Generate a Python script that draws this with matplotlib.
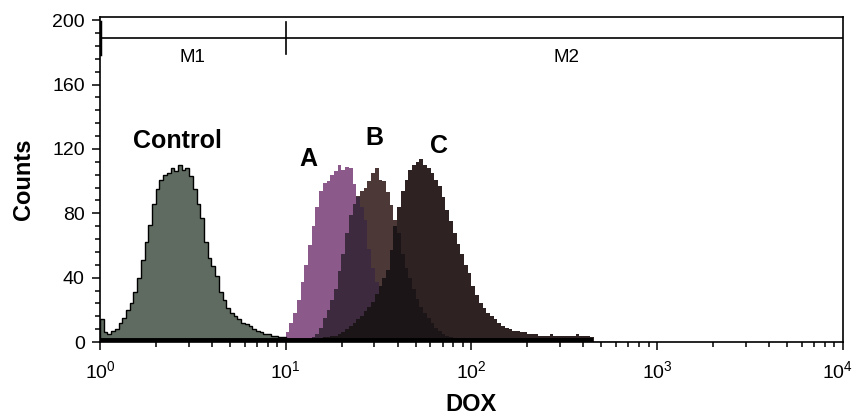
import numpy as np
import matplotlib
matplotlib.use("Agg")
import matplotlib.pyplot as plt
from matplotlib.ticker import LogLocator, MultipleLocator, NullFormatter
from matplotlib.transforms import ScaledTranslation

plt.rcParams['font.family'] = ['Liberation Sans', 'DejaVu Sans']

# ---- data (counts per log-channel bin, bin width 0.02 decade) ----
bin_width = 0.02  # decades
control_start = 0.00
control_counts = [14, 6, 5, 7, 8, 12, 15, 20, 24, 31, 40, 51, 62, 73, 86, 95, 101, 104, 105, 108,
                  106, 110, 107, 108, 103, 95, 86, 77, 62, 52, 47, 41, 31, 26, 21, 18, 16, 14, 12, 11,
                  10, 8, 7, 6, 5, 5, 4, 4, 3, 3]
a_start = 0.96
a_counts = [2, 3, 6, 12, 18, 26, 37, 48, 60, 72, 84, 94, 99, 100, 104, 106, 110, 107, 109, 108,
            98, 90, 84, 76, 58, 46, 37, 29, 22, 17, 13, 10, 8, 6, 5, 4, 3, 3, 2, 2]
b_start = 1.12
b_counts = [2, 3, 5, 9, 15, 20, 26, 33, 44, 55, 68, 79, 86, 91, 94, 96, 100, 105, 108, 101,
            100, 93, 85, 76, 68, 55, 46, 40, 33, 27, 22, 18, 15, 12, 9, 7, 5, 4, 3, 2, 2]
c_start = 1.18
c_counts = [2, 3, 3, 4, 4, 5, 6, 8, 10, 12, 14, 16, 19, 22, 25, 30, 35, 40, 45, 57,
            72, 84, 94, 101, 107, 110, 112, 114, 110, 108, 105, 101, 97, 90, 82, 75, 68, 61, 55, 48,
            43, 35, 29, 24, 21, 18, 16, 14, 12, 10, 9, 8, 7, 7, 6, 6, 5, 5, 5, 4,
            4, 4, 5, 4, 4, 4, 4, 4, 4, 5, 4, 4, 4, 3]
debris_range = (1.0, 450.0)
debris_level = 1.0

# gates
gate_level = 189
gate_edges = [1, 10, 10000]
gate_names = ["M1", "M2"]
gate_label_pos = [(3.13, 177), (325, 177)]

# annotations
series_labels = ["Control", "A", "B", "C"]
series_label_pos = [(2.6, 125), (13.2, 114), (30, 127), (67, 122)]

# colors
col_control = '#5F6B61'
col_a = '#8B5A8A'
col_b = '#4D3838'
col_ab = '#3D2A3E'
col_c = '#2F2223'
col_bc = '#1B1517'

# ---- common grid ----
n_bins = 140
grid_log_edges = np.round(np.arange(n_bins + 1) * bin_width, 4)
edges = 10 ** grid_log_edges


def on_grid(start, counts):
    arr = np.zeros(n_bins)
    i0 = int(round(start / bin_width))
    arr[i0:i0 + len(counts)] = counts
    return arr


ctrl = on_grid(control_start, control_counts)
A = on_grid(a_start, a_counts)
B = on_grid(b_start, b_counts)
C = on_grid(c_start, c_counts)

fig = plt.figure(figsize=(8.56, 4.15), dpi=100)
ax = fig.add_axes([0.1168, 0.1759, 0.868, 0.7831])
ax.set_xscale('log')

# control
ax.stairs(ctrl, edges, fill=True, color=col_control, zorder=2)
ax.stairs(ctrl, edges, color='black', lw=1.0, zorder=3)
# A, B and overlap
ax.stairs(A, edges, fill=True, color=col_a, zorder=2)
ax.stairs(B, edges, fill=True, color=col_b, zorder=2.1)
ax.stairs(np.minimum(A, B), edges, fill=True, color=col_ab, zorder=2.2)
# C and overlaps
ax.stairs(C, edges, fill=True, color=col_c, zorder=2.3)
ax.stairs(np.minimum(B, C), edges, fill=True, color=col_bc, zorder=2.4)
ax.stairs(np.minimum(A, C), edges, fill=True, color=col_bc, zorder=2.4)

# debris baseline
ax.plot(debris_range, [debris_level, debris_level], color='black', lw=2.8,
        solid_capstyle='butt', zorder=4)

# gates
ax.plot([gate_edges[0], gate_edges[-1]], [gate_level, gate_level], color='black', lw=1.2, zorder=5)
for i, g in enumerate(gate_edges[:-1]):
    ax.plot([g, g], [gate_level - 10, gate_level + 10], color='black',
            lw=2.5 if i == 0 else 1.2, zorder=5)
for name, (gx, gy) in zip(gate_names, gate_label_pos):
    ax.text(gx, gy, name, ha='center', va='center', fontsize=13.5)

for name, (lx, ly) in zip(series_labels, series_label_pos):
    ax.text(lx, ly, name, ha='center', va='center', fontsize=18, fontweight='bold')

ax.set_xlim(1, 10000)
ax.set_ylim(0, 202)
ax.yaxis.set_major_locator(MultipleLocator(40))
ax.yaxis.set_minor_locator(MultipleLocator(8))
ax.xaxis.set_major_locator(LogLocator(base=10, numticks=10))
ax.xaxis.set_minor_locator(LogLocator(base=10, subs=np.arange(2, 10), numticks=20))
ax.xaxis.set_minor_formatter(NullFormatter())
ax.tick_params(which='both', direction='out', top=False, right=False, width=1.1,
               labelsize=14, colors='black')
ax.tick_params(which='major', length=6)
ax.tick_params(which='minor', length=3.5)
ax.tick_params(axis='x', which='major', pad=7)
ax.tick_params(axis='y', which='major', pad=5)
for s in ax.spines.values():
    s.set_linewidth(1.2)

ax.set_xlabel('DOX', fontsize=17, fontweight='bold', labelpad=8)
ax.set_ylabel('Counts', fontsize=17, fontweight='bold', labelpad=12)

# keep the last x tick label inside the figure
fig.canvas.draw()
last_tick = ax.xaxis.get_major_ticks()
for t in last_tick:
    if abs(t.get_loc() - 10000) < 1e-6:
        t.label1.set_transform(t.label1.get_transform() +
                               ScaledTranslation(-4 / 72, 0, fig.dpi_scale_trans))

fig.savefig('out.png', dpi=100)
